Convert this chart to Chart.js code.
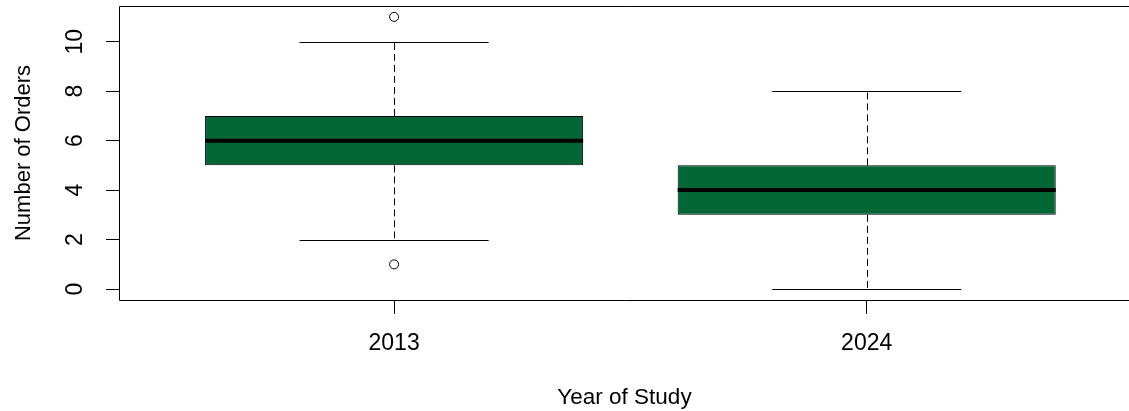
<!DOCTYPE html>
<html>
<head>
<meta charset="utf-8">
<script src="https://cdn.jsdelivr.net/npm/chart.js@4.4.1/dist/chart.umd.min.js"></script>
<style>
  html, body { margin: 0; padding: 0; background: #fff; overflow: hidden; }
  canvas { display: block; }
</style>
</head>
<body>
<canvas id="c" width="1129" height="411"></canvas>
<script>
// Five-number summaries per study year
const years = ['2013', '2024'];
const lowerWhisker = [2, 0];
const q1 = [5, 3];
const medians = [6, 4];
const q3 = [7, 5];
const upperWhisker = [10, 8];

// Points beyond the whiskers (group index is 1-based)
const outlierGroup = [1, 1];
const outlierValues = [11, 1];

const yTicks = [0, 2, 4, 6, 8, 10];

const BOX_FILL = '#036635';
const FONT = '"Liberation Sans", Arial, Helvetica, sans-serif';

Chart.defaults.font.family = FONT;
Chart.defaults.font.size = 22;
Chart.defaults.color = '#000';

// Whiskers, staples, medians and the plot frame
const boxExtras = {
  id: 'boxExtras',
  afterDatasetsDraw(chart) {
    const ctx = chart.ctx;
    const y = chart.scales.y;
    const bars = chart.getDatasetMeta(0).data;
    ctx.save();
    ctx.strokeStyle = '#000';
    bars.forEach((bar, i) => {
      const cx = Math.round(bar.x) + 0.5;
      const half = bar.width / 2;
      const cap = half / 2;
      const yUp = y.getPixelForValue(upperWhisker[i]);
      const yLo = y.getPixelForValue(lowerWhisker[i]);
      const yQ1 = y.getPixelForValue(q1[i]);
      const yQ3 = y.getPixelForValue(q3[i]);
      const yMed = y.getPixelForValue(medians[i]);

      ctx.lineWidth = 1;
      ctx.setLineDash([7, 4]);
      ctx.beginPath();
      ctx.moveTo(cx, yQ3); ctx.lineTo(cx, yUp);
      ctx.moveTo(cx, yQ1); ctx.lineTo(cx, yLo);
      ctx.stroke();
      ctx.setLineDash([]);

      ctx.beginPath();
      ctx.moveTo(bar.x - cap, Math.round(yUp) + 0.5); ctx.lineTo(bar.x + cap, Math.round(yUp) + 0.5);
      ctx.moveTo(bar.x - cap, Math.round(yLo) + 0.5); ctx.lineTo(bar.x + cap, Math.round(yLo) + 0.5);
      ctx.stroke();

      ctx.lineWidth = 4;
      ctx.beginPath();
      ctx.moveTo(bar.x - half, yMed); ctx.lineTo(bar.x + half, yMed);
      ctx.stroke();
    });

    // frame: top, left and bottom edges (the right edge lies beyond the canvas)
    const a = chart.chartArea;
    const l = a.left - 0.5, t = a.top + 0.5, b = a.bottom + 0.5;
    ctx.lineWidth = 1;
    ctx.beginPath();
    ctx.moveTo(a.right + 5, t); ctx.lineTo(l, t); ctx.lineTo(l, b); ctx.lineTo(a.right + 5, b);
    ctx.stroke();
    ctx.restore();
  }
};

new Chart(document.getElementById('c'), {
  type: 'bar',
  data: {
    datasets: [
      {
        label: 'box',
        data: years.map((_, i) => ({ x: i + 1, y: [q1[i], q3[i]] })),
        backgroundColor: BOX_FILL,
        borderColor: '#000',
        borderWidth: 1,
        borderSkipped: false,
        categoryPercentage: 0.8,
        barPercentage: 1.0,
        grouped: false
      },
      {
        type: 'line',
        label: 'outliers',
        data: outlierValues.map((v, i) => ({ x: outlierGroup[i], y: v })),
        showLine: false,
        pointRadius: 4.5,
        pointBackgroundColor: '#fff',
        pointBorderColor: '#000',
        pointBorderWidth: 1
      }
    ]
  },
  options: {
    responsive: false,
    animation: false,
    devicePixelRatio: 1,
    layout: { autoPadding: false, padding: { top: 6, right: 0, left: 0, bottom: 0 } },
    plugins: { legend: { display: false }, tooltip: { enabled: false } },
    scales: {
      x: {
        type: 'linear',
        min: 0.42,
        max: 2.555,
        offset: false,
        afterBuildTicks: s => { s.ticks = years.map((_, i) => ({ value: i + 1 })); },
        afterFit: s => { s.height = 111; s.paddingLeft = 0; s.paddingRight = 0; },
        ticks: {
          callback: v => years[v - 1],
          padding: 15.5,
          maxRotation: 0,
          autoSkip: false,
          font: { size: 23 }
        },
        grid: { offset: false, drawOnChartArea: false, drawTicks: true, tickLength: 14, tickColor: '#000', lineWidth: 1 },
        border: { display: false },
        title: { display: true, text: 'Year of Study', font: { size: 22.5 }, padding: { top: 0, bottom: 0 } }
      },
      y: {
        type: 'linear',
        min: -0.44,
        max: 11.44,
        afterBuildTicks: s => { s.ticks = yTicks.map(v => ({ value: v })); },
        afterFit: s => { s.width = 120; s.paddingTop = 0; s.paddingBottom = 0; },
        ticks: {
          minRotation: 90,
          maxRotation: 90,
          crossAlign: 'center',
          padding: 18,
          autoSkip: false,
          font: { size: 23 }
        },
        grid: { drawOnChartArea: false, drawTicks: true, tickLength: 14, tickColor: '#000', lineWidth: 1 },
        border: { display: false },
        title: { display: true, text: 'Number of Orders', font: { size: 22 }, padding: { top: 11, bottom: 0 } }
      }
    }
  },
  plugins: [boxExtras]
});
</script>
</body>
</html>
